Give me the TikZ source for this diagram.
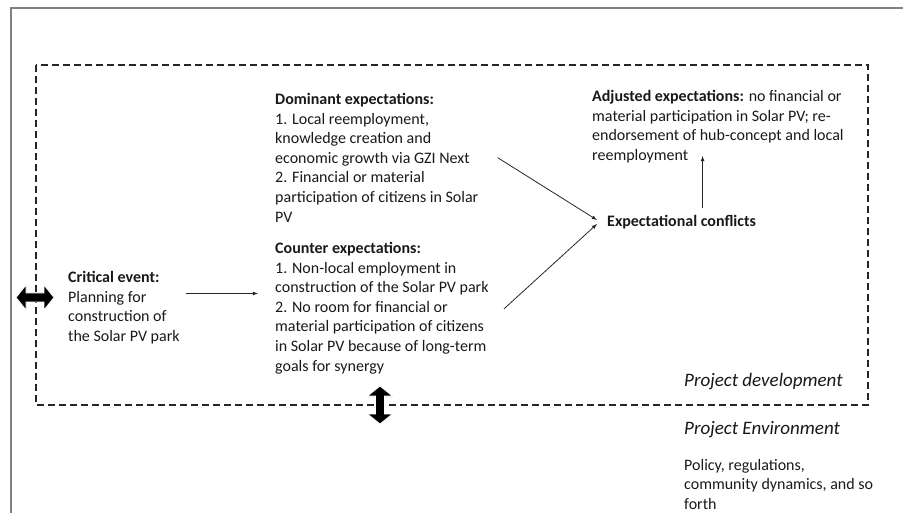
\documentclass[tikz,border=0pt]{standalone}
\usepackage{fontspec}
\setmainfont{Carlito}
\usetikzlibrary{positioning}

\tikzset{
  txt/.style={inner sep=0pt, align=left, anchor=north west, text=black!90,
              font=\fontsize{16}{19.6}\selectfont},
  big/.style={txt, font=\fontsize{19}{23}\selectfont\itshape},
  arr/.style={->, >=latex, black!85, line width=0.8pt},
  dblarrow/.pic={\filldraw[fill=black, draw=white, line width=0.8pt]
      (-19,0) -- (-9,12.5) -- (-9,4.5) -- (9,4.5) -- (9,12.5) -- (19,0)
      -- (9,-12.5) -- (9,-4.5) -- (-9,-4.5) -- (-9,-12.5) -- cycle;}
}

\begin{document}
\begin{tikzpicture}[x=1pt, y=1pt]
  \useasboundingbox (0,0) rectangle (903,-513);
  \draw[black!50, line width=1.5pt] (11,-513) -- (11,-8) -- (903,-8);
  \draw[black!85, line width=1.3pt, dash pattern=on 7pt off 4pt]
      (36,-65) rectangle (868,-405);

  \node[txt] (crit) at (68,-271) {\textbf{Critical event:}\\Planning for\\
      construction of\\the Solar PV park};
  \node[txt] (dom) at (275,-93) {\textbf{Dominant expectations:}\\
      1. Local reemployment,\\knowledge creation and\\
      economic growth via GZI Next\\2. Financial or material\\
      participation of citizens in Solar\\PV};
  \node[txt] (cnt) at (275,-242) {\textbf{Counter expectations:}\\
      1. Non-local employment in\\construction of the Solar PV park\\
      2. No room for financial or\\material participation of citizens\\
      in Solar PV because of long-term\\goals for synergy};
  \node[txt, anchor=west] (conf) at (607,-222) {\textbf{Expectational conflicts}};
  \node[txt] (adj) at (592,-90) {\textbf{Adjusted expectations:} no financial or\\
      material participation in Solar PV; re-\\
      endorsement of hub-concept and local\\reemployment};
  \node[big] (dev) at (684,-373) {Project development};
  \node[big] (env) at (684,-421) {Project Environment};
  \node[txt] (pol) at (684,-459) {Policy, regulations,\\
      community dynamics, and so\\forth};

  \coordinate (c1) at ([yshift=14pt]crit.east);
  \draw[arr, shorten <=6pt, shorten >=17pt] (c1) -- (c1 -| cnt.west);
  \draw[arr] ([xshift=19pt]dom.east) -- ([shift={(-10pt,2pt)}]conf.west);
  \draw[arr] ([shift={(15pt,-1pt)}]cnt.east) -- ([shift={(-10pt,-2pt)}]conf.west);
  \coordinate (u) at ([xshift=21pt]conf.north);
  \draw[arr, shorten <=7pt, shorten >=-7pt] (u) -- (u |- adj.south);

  \pic at (35,-297.5) {dblarrow};
  \pic[rotate=90] at (380,-405) {dblarrow};
\end{tikzpicture}
\end{document}
